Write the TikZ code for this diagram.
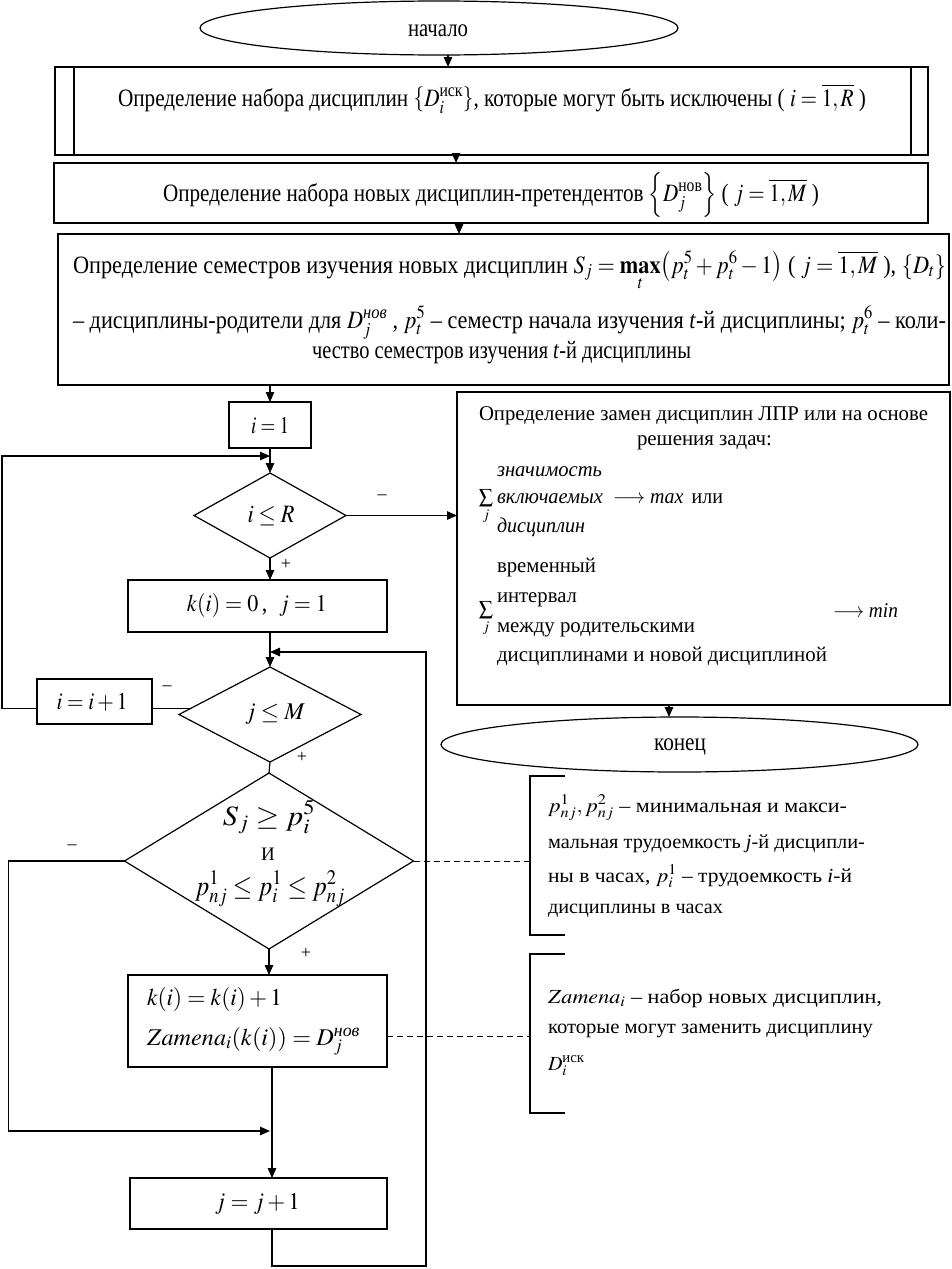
\documentclass[tikz,border=0pt]{standalone}
\usepackage{amsmath}
\usepackage{mathptmx}
\usepackage{fontspec}
\setmainfont{Liberation Serif}
\usepackage{graphicx}
\usetikzlibrary{shapes.geometric,arrows.meta,calc}
\newcommand{\myfs}[1]{\fontsize{#1}{#1}\selectfont}
\newcommand{\fitw}[2]{\resizebox{#1}{\height}{#2}}
\begin{document}
\begin{tikzpicture}[x=1pt,y=-1pt,
  shp/.style={draw, line width=1.2pt, inner sep=0pt, outer sep=0pt},
  rbx/.style={shp, rectangle},
  trm/.style={shp, ellipse},
  dmd/.style={shp, diamond},
  arr/.style={line width=1.2pt, -{Triangle[length=10pt,width=8.5pt]}},
  ln/.style={line width=1.2pt},
  dsh/.style={line width=1pt, dash pattern=on 6pt off 4pt},
  tx/.style={inner sep=0pt, outer sep=0pt},
  sgn/.style={tx, font={\myfs{18}}},
]
\fill[white] (0,0) rectangle (951,1269);
\useasboundingbox (0,0) rectangle (951,1269);

% ---------- shapes ----------
\node[trm, minimum width=478pt, minimum height=54pt] (start) at (439,28) {};
\node[rbx, minimum width=873pt, minimum height=88pt] (box1) at (491.5,111) {};
\draw[ln] ([xshift=19pt]box1.north west) -- ([xshift=19pt]box1.south west);
\draw[ln] ([xshift=-17pt]box1.north east) -- ([xshift=-17pt]box1.south east);
\node[rbx, minimum width=874pt, minimum height=60pt] (box2) at (491,193) {};
\node[rbx, minimum width=891pt, minimum height=151pt] (box3) at (503.5,309.5) {};
\node[rbx, minimum width=82pt, minimum height=46pt] (i1) at (270,425) {};
\node[dmd, minimum width=152pt, minimum height=85pt] (ir) at (270,515.5) {};
\node[rbx, minimum width=259pt, minimum height=52pt] (kb) at (257.5,606) {};
\node[dmd, minimum width=182pt, minimum height=95pt] (jm) at (270,714.5) {};
\node[rbx, minimum width=115pt, minimum height=45pt] (inc) at (94.5,701.5) {};
\node[dmd, minimum width=289pt, minimum height=176pt] (big) at (269,861) {};
\node[rbx, minimum width=259pt, minimum height=92pt] (kz) at (257.5,1021) {};
\node[rbx, minimum width=257pt, minimum height=51pt] (jb) at (258.5,1203.5) {};
\node[rbx, minimum width=493pt, minimum height=313pt] (rbox) at (703.5,548.5) {};
\node[trm, minimum width=477pt, minimum height=55pt] (endn) at (679.5,744.5) {};

% ---------- connectors ----------
\coordinate (cA) at (448,0);
\coordinate (cB) at (456,0);
\coordinate (cC) at (459,0);
\coordinate (cM) at (270,0);
\coordinate (cL) at (272,0);
\coordinate (cE) at (669,0);
\coordinate (m1) at (270,456);
\coordinate (m2) at (270,652);
\coordinate (m3) at (270,1131);
\coordinate (rl) at (426,1266);
\coordinate (b1) at (530,861);
\coordinate (b2) at (530,1036);

\draw[arr] (cA |- start.south) -- (cA |- box1.north);
\draw[arr] (cB |- box1.south) -- (cB |- box2.north);
\draw[arr] (cC |- box2.south) -- (cC |- box3.north);
\draw[arr] (cM |- box3.south) -- (i1.north);
\draw[arr] (i1.south) -- (ir.north);
\draw[arr] (ir.east) -- (ir.east -| rbox.west);
\draw[arr] (ir.south) -- (ir.south |- kb.north);
\draw[arr] (jm.north |- kb.south) -- (jm.north);
\draw[ln] (jm.south) -- (big.north);
\coordinate (jmw) at ($(jm.west)!0.13!(jm.north)$);
\draw[ln] (jmw) -- (jmw -| inc.east);
\draw[arr] (jmw -| inc.west) -- ++(-35,0) |- (m1);
\draw[arr] (cL |- jb.south) |- (rl) |- (m2);
\draw[arr] (big.west) -- ++(-116,0) |- (m3);
\draw[arr] (big.south) -- (big.south |- kz.north);
\draw[arr] (cL |- kz.south) -- (cL |- jb.north);
\draw[arr] (cE |- rbox.south) -- (cE |- endn.north);

% brackets (annotations)
\draw[ln] (565,776) -- (530,776) -- (530,935) -- (565,935);
\draw[ln] (565,954) -- (530,954) -- (530,1113) -- (565,1113);
\draw[dsh] (big.east) -- (b1);
\draw[dsh] (b2 -| kz.east) -- (b2);

% ---------- texts ----------
\node[tx, font={\myfs{25}}] (tstart) at (438,31) {\fitw{60pt}{начало}};
\node[tx, font={\myfs{25}}] (tend) at (680,747) {\fitw{52pt}{конец}};

\node[tx, anchor=base west, font={\myfs{25}}] (t1) at (118,106)
 {\fitw{748pt}{Определение набора дисциплин $\left\{D_i^{\text{иск}}\right\}$, которые могут быть исключены ( $i=\overline{1,R}$ )}};
\node[tx, anchor=base west, font={\myfs{25}}] (t2) at (163,201)
 {\fitw{656pt}{Определение набора новых дисциплин-претендентов $\left\{D_j^{\text{нов}}\right\}$ ( $j=\overline{1,M}$ )}};
\node[tx, anchor=base west, font={\myfs{25}}] (t3a) at (73,273)
 {\fitw{873pt}{Определение семестров изучения новых дисциплин $S_j=\mathop{\mathbf{max}}\limits_t\bigl(p_t^5+p_t^6-1\bigr)$ ( $j=\overline{1,M}$ ), $\{D_t\}$}};
\node[tx, anchor=base west, font={\myfs{25}}] (t3b) at (73,328)
 {\fitw{873pt}{– дисциплины-родители для $D_j^{\textit{нов}}$ , $p_t^5$ – семестр начала изучения \textit{t}-й дисциплины; $p_t^6$ – коли-}};
\node[tx, anchor=base west, font={\myfs{25}}] (t3c) at (312,358)
 {\fitw{379pt}{чество семестров изучения \textit{t}-й дисциплины}};

\node[tx, font={\myfs{24}}] (ti1) at (270,426) {\fitw{38pt}{$i=1$}};
\node[tx, font={\myfs{25}}] (tir) at (271,516) {\fitw{47pt}{$i\le R$}};
\node[tx, font={\myfs{24}}] (tkb) at (257,605) {\fitw{140pt}{$k\mathbf{(}i\mathbf{)}=0$\,,\; $j=1$}};
\node[tx, font={\myfs{24}}] (tjm) at (275,714) {\fitw{60pt}{$j\le M$}};
\node[tx, font={\myfs{24}}] (tinc) at (92,702) {\fitw{71pt}{$i=i+1$}};
\node[tx, anchor=base, font={\myfs{28}}] (tbg1) at (269,825) {\fitw{92pt}{$S_j\ge p_i^5$}};
\node[tx, anchor=base, font={\myfs{19}}] (tbg2) at (268,860) {И};
\node[tx, anchor=base, font={\myfs{28}}] (tbg3) at (270,895) {\fitw{150pt}{$p_{nj}^1\le p_i^1\le p_{nj}^2$}};
\node[tx, anchor=base west, font={\myfs{24}}] (tkz1) at (147,1005) {\fitw{135pt}{$k\mathbf{(}i\mathbf{)}=k\mathbf{(}i\mathbf{)}+1$}};
\node[tx, anchor=base west, font={\myfs{24}}] (tkz2) at (147,1045) {\fitw{213pt}{$Zamena_i\mathbf{(}k\mathbf{(}i\mathbf{))}=D_j^{\textit{нов}}$}};
\node[tx, font={\myfs{24}}] (tjb) at (257.5,1204) {\fitw{85pt}{$j=j+1$}};

% right box
\node[tx, anchor=base west, font={\myfs{21}}] (tr1) at (479,420) {\fitw{449pt}{Определение замен дисциплин ЛПР или на основе}};
\node[tx, anchor=base west, font={\myfs{21}}] (tr2) at (637,445) {\fitw{135pt}{решения задач:}};
\node[tx, font={\myfs{20}}] (sum1) at (486,507) {$\sum\limits_j$};
\node[tx, anchor=base west, font={\myfs{21}}] (w1) at (497,476) {\fitw{105pt}{\textit{значимость}}};
\node[tx, anchor=base west, font={\myfs{21}}] (w2) at (497,503) {\fitw{106pt}{\textit{включаемых}}};
\node[tx, anchor=base west, font={\myfs{21}}] (w3) at (497,532) {\fitw{88pt}{\textit{дисциплин}}};
\node[tx, anchor=base west, font={\myfs{21}}] (w4) at (613,503) {\fitw{110pt}{$\longrightarrow$ \textit{max}\, или}};
\node[tx, font={\myfs{20}}] (sum2) at (486,619) {$\sum\limits_j$};
\node[tx, anchor=base west, font={\myfs{21}}] (v1) at (497,572) {\fitw{99pt}{временный}};
\node[tx, anchor=base west, font={\myfs{21}}] (v2) at (497,602) {\fitw{80pt}{интервал}};
\node[tx, anchor=base west, font={\myfs{21}}] (v3) at (497,632) {\fitw{198pt}{между родительскими}};
\node[tx, anchor=base west, font={\myfs{21}}] (v4) at (497,661) {\fitw{330pt}{дисциплинами и новой дисциплиной}};
\node[tx, anchor=base west, font={\myfs{21}}] (v5) at (833,617) {\fitw{65pt}{$\longrightarrow$ \textit{min}}};

% annotations
\node[tx, anchor=base west, font={\myfs{20}}] (a1) at (548,812) {\fitw{299pt}{$p_{nj}^{1}, p_{nj}^{2}$ – минимальная и макси-}};
\node[tx, anchor=base west, font={\myfs{20}}] (a2) at (548,848) {\fitw{317pt}{мальная трудоемкость \textit{j}-й дисципли-}};
\node[tx, anchor=base west, font={\myfs{20}}] (a3) at (548,882) {\fitw{304pt}{ны в часах, $p_i^1$ – трудоемкость \textit{i}-й}};
\node[tx, anchor=base west, font={\myfs{20}}] (a4) at (548,913) {\fitw{175pt}{дисциплины в часах}};
\node[tx, anchor=base west, font={\myfs{20}}] (z1) at (548,1003) {\fitw{334pt}{$Zamena_i$ – набор новых дисциплин,}};
\node[tx, anchor=base west, font={\myfs{20}}] (z2) at (548,1033) {\fitw{325pt}{которые могут заменить дисциплину}};
\node[tx, anchor=base west, font={\myfs{20}}] (z3) at (548,1070) {$D_i^{\text{иск}}$};

% branch signs
\node[sgn] (s1) at (382,497) {–};
\node[sgn] (s2) at (286,564) {+};
\node[sgn] (s3) at (167,688) {–};
\node[sgn] (s4) at (302,757) {+};
\node[sgn] (s5) at (72,847) {–};
\node[sgn] (s6) at (306,953) {+};
\end{tikzpicture}
\end{document}
